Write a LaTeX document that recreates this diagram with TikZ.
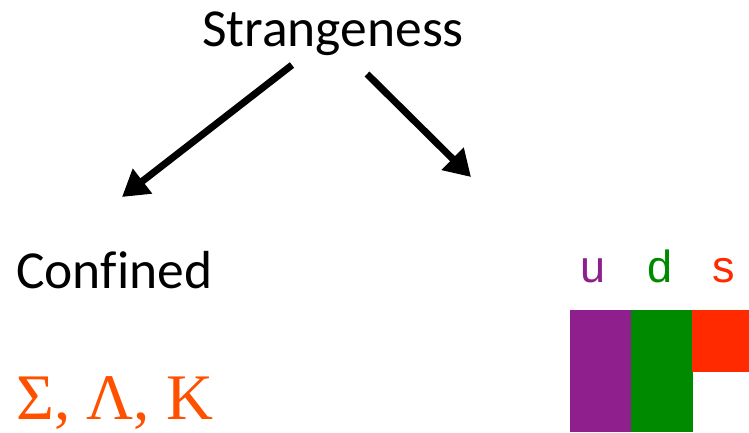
\documentclass[tikz,border=0pt]{standalone}
\usepackage{fontspec}
\setmainfont[Ligatures=NoCommon]{Carlito}
\newfontfamily\arialf{Liberation Sans}
\newfontfamily\timesf{Liberation Serif}
\usetikzlibrary{arrows.meta}
\definecolor{upurple}{HTML}{8E1F8C}
\definecolor{dgreen}{HTML}{008A00}
\definecolor{sred}{HTML}{FF2A00}
\definecolor{greekorange}{HTML}{FF5000}
\tikzset{
  bigarrow/.style={line width=7pt, -{Triangle[length=26pt,width=30pt]}},
  calib/.style={font=\fontsize{53.5}{60}\selectfont, inner sep=0pt},
  quark/.style={font=\arialf\fontsize{45}{50}\selectfont, inner sep=0pt, anchor=base},
}
\begin{document}
\begin{tikzpicture}[x=1pt,y=-1pt]
\useasboundingbox (0,0) rectangle (749,432);
\node[calib, anchor=base] (strange) at (333,46) {Strangeness};
\node[calib, anchor=base west] (confined) at (16,288) {Confined};
\node[inner sep=0pt, anchor=base west, text=greekorange, font=\timesf\fontsize{65}{70}\selectfont] (greek) at (16,419) {Σ, Λ, Κ};
\node[quark, text=upurple] (u) at (593,282) {u};
\node[quark, text=dgreen] (d) at (660,282) {d};
\node[quark, text=sred] (s) at (724,282) {s};
\fill[upurple] (570,310) rectangle (631,432);
\fill[dgreen] (631,310) rectangle (693,432);
\fill[sred] (692,310) rectangle (749,372);
\coordinate (la) at (292,65);
\coordinate (lb) at (122,197);
\coordinate (ra) at (367,74);
\coordinate (rb) at (471,177);
\draw[bigarrow] (la) -- (lb);
\draw[bigarrow] (ra) -- (rb);
\end{tikzpicture}
\end{document}
